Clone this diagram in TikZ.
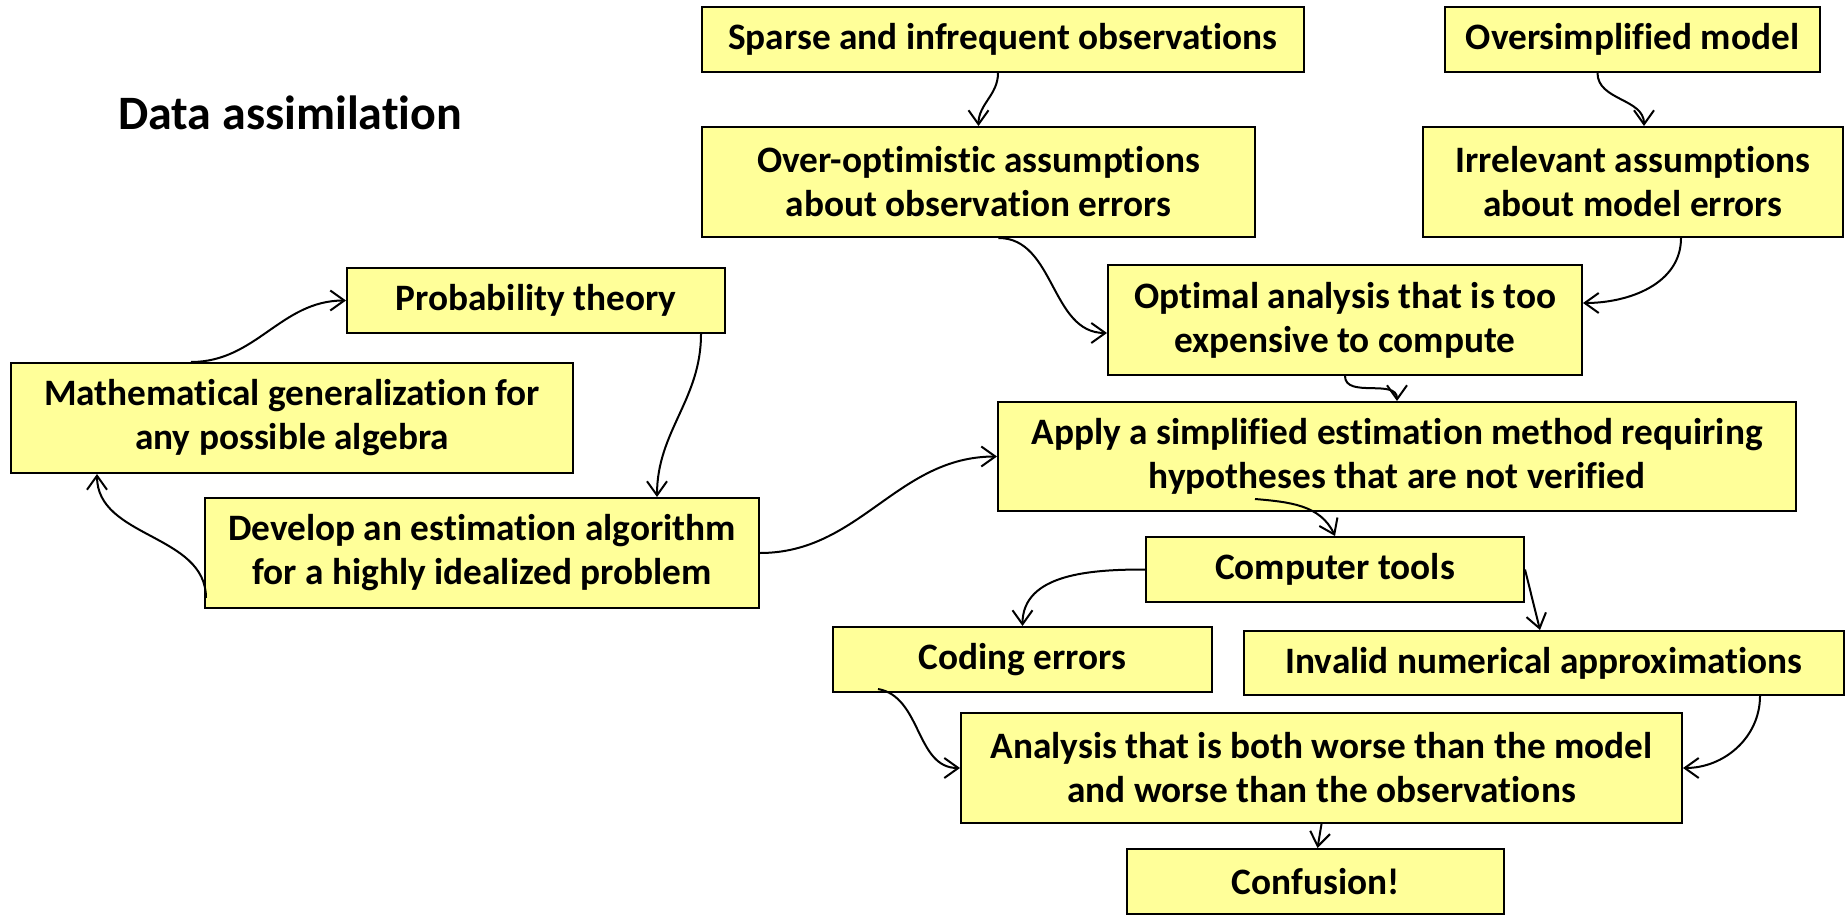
\documentclass[tikz,border=0pt]{standalone}
\usepackage{fontspec}
\setmainfont{Carlito}[RawFeature={-liga;-clig}]
\usetikzlibrary{arrows.meta,calc}
\definecolor{boxyellow}{RGB}{255,255,153}
\begin{document}
\begin{tikzpicture}[x=1pt,y=1pt,
  box/.style={draw=black, line width=2pt, fill=boxyellow, align=center, inner sep=0pt,
    font=\fontsize{37.3}{44}\selectfont\bfseries},
  conn/.style={line width=2pt, -{Straight Barb[length=14pt,width=20pt]}},
]
\useasboundingbox (0,0) rectangle (1847,-915);

\node[anchor=base west, inner sep=0pt, font=\fontsize{48}{56}\selectfont\bfseries] (title) at (118,-130) {Data assimilation};

\node[box, minimum width=602pt, minimum height=65pt] (sparse) at (1003,-39.5) {Sparse and infrequent observations};
\node[box, minimum width=375pt, minimum height=65pt] (overs) at (1632.5,-39.5) {Oversimplified model};
\node[box, minimum width=553pt, minimum height=110pt] (overopt) at (978.5,-182) {Over-optimistic assumptions\\about observation errors};
\node[box, minimum width=420pt, minimum height=110pt] (irrel) at (1633,-182) {Irrelevant assumptions\\about model errors};
\node[box, minimum width=474pt, minimum height=110pt] (optimal) at (1345,-320) {Optimal analysis that is too\\expensive to compute};
\node[box, minimum width=378pt, minimum height=65pt] (prob) at (536,-300.5) {Probability theory};
\node[box, minimum width=562pt, minimum height=110pt] (math) at (292,-418) {Mathematical generalization for\\any possible algebra};
\node[box, minimum width=554pt, minimum height=110pt] (develop) at (482,-553) {Develop an estimation algorithm\\for a highly idealized problem};
\node[box, minimum width=798pt, minimum height=109pt] (apply) at (1397,-456.5) {Apply a simplified estimation method requiring\\hypotheses that are not verified};
\node[box, minimum width=378pt, minimum height=65pt] (comp) at (1335,-569.5) {Computer tools};
\node[box, minimum width=379pt, minimum height=65pt] (coding) at (1022.5,-659.5) {Coding errors};
\node[box, minimum width=600pt, minimum height=64pt] (invalid) at (1544,-663) {Invalid numerical approximations};
\node[box, minimum width=721pt, minimum height=110pt] (analysis) at (1321.5,-768) {Analysis that is both worse than the model\\and worse than the observations};
\node[box, minimum width=377pt, minimum height=65pt] (confusion) at (1315.5,-881.5) {Confusion!};

% connectors
\draw[conn] ($(sparse.south)+(-5,0)$) to[out=-90,in=90] (overopt.north);
\draw[conn] ($(overs.south)+(-35,0)$) to[out=-90,in=90] ($(irrel.north)+(11,0)$);
\draw[conn] ($(overopt.south)+(20,0)$) to[out=0,in=180] ($(optimal.west)+(0,-13)$);
\draw[conn] ($(irrel.south)+(48,0)$) to[out=-90,in=0] ($(optimal.east)+(0,17)$);
\draw[conn] (optimal.south) to[out=-90,in=90] (apply.north);
\draw[conn] ($(prob.south)+(165,0)$) to[out=-90,in=90] ($(develop.north)+(175,0)$);
\draw[conn] ($(math.north)+(-101,0)$) to[out=0,in=180] (prob.west);
\draw[conn] ($(develop.south west)+(2,11)$) to[out=90,in=-90] ($(math.south)+(-195,0)$);
\draw[conn] (develop.east) to[out=0,in=180] (apply.west);
\draw[conn] ($(apply.south)+(-142,13)$) to[out=-5,in=115] (comp.north);
\draw[conn] (comp.west) to[out=180,in=90] (coding.north);
\draw[conn] (comp.east) -- ($(invalid.north)+(-4,0)$);
\draw[conn] ($(coding.south west)+(46,4)$) to[out=-10,in=180] (analysis.west);
\draw[conn] ($(invalid.south)+(216,0)$) to[out=-90,in=0] (analysis.east);
\draw[conn] (analysis.south) -- ($(confusion.north)+(2,0)$);
\end{tikzpicture}
\end{document}
